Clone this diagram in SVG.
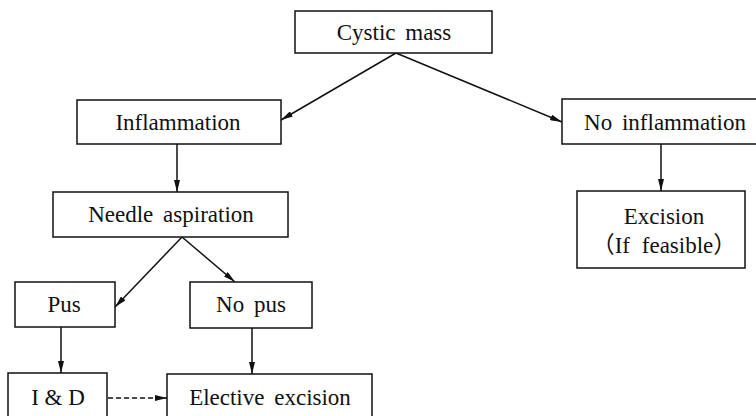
<svg xmlns="http://www.w3.org/2000/svg" width="756" height="416" viewBox="0 0 756 416">
<defs>
<style>
.box{fill:#fff;stroke:#111;stroke-width:1.5}
.t{font-family:"Liberation Serif","Times New Roman","Noto Sans CJK SC",serif;font-size:23px;fill:#111;text-anchor:middle;word-spacing:4px}
.c{stroke:#111;stroke-width:1.5;fill:none}
.d{stroke:#111;stroke-width:1.4;fill:none;stroke-dasharray:5 3}
</style>
<marker id="ah" viewBox="0 0 12 6" refX="12" refY="3" markerWidth="12" markerHeight="6" markerUnits="userSpaceOnUse" orient="auto">
<path d="M0,0 L12,3 L0,6 Z" fill="#111"/>
</marker>
</defs>
<rect width="756" height="416" fill="#fff"/>
<g id="connectors">
<line class="c" x1="396" y1="53" x2="281" y2="120" marker-end="url(#ah)"/>
<line class="c" x1="396" y1="53" x2="562" y2="122" marker-end="url(#ah)"/>
<line class="c" x1="177" y1="144" x2="177" y2="192" marker-end="url(#ah)"/>
<line class="c" x1="661" y1="144" x2="661" y2="191" marker-end="url(#ah)"/>
<line class="c" x1="182" y1="237" x2="115" y2="307" marker-end="url(#ah)"/>
<line class="c" x1="182" y1="237" x2="235" y2="282" marker-end="url(#ah)"/>
<line class="c" x1="61" y1="327" x2="61" y2="373" marker-end="url(#ah)"/>
<line class="c" x1="252" y1="328" x2="252" y2="374" marker-end="url(#ah)"/>
<line class="d" x1="108" y1="398" x2="167" y2="398" marker-end="url(#ah)"/>
</g>
<g id="cystic-mass">
<rect class="box" x="295" y="11" width="197" height="42"/>
<text class="t" x="394" y="40">Cystic mass</text>
</g>
<g id="inflammation">
<rect class="box" x="77" y="100" width="204" height="44"/>
<text class="t" x="178" y="130">Inflammation</text>
</g>
<g id="no-inflammation">
<rect class="box" x="562" y="99" width="200" height="45"/>
<text class="t" x="665" y="130">No inflammation</text>
</g>
<g id="needle-aspiration">
<rect class="box" x="53" y="192" width="235" height="45"/>
<text class="t" x="171" y="222">Needle aspiration</text>
</g>
<g id="excision">
<rect class="box" x="577" y="191" width="168" height="77"/>
<text class="t" x="664" y="224">Excision</text>
<text class="t" x="664" y="253" style="word-spacing:6px">（If feasible）</text>
</g>
<g id="pus">
<rect class="box" x="15" y="282" width="100" height="45"/>
<text class="t" x="64" y="312">Pus</text>
</g>
<g id="no-pus">
<rect class="box" x="190" y="282" width="122" height="46"/>
<text class="t" x="251" y="312">No pus</text>
</g>
<g id="i-and-d">
<rect class="box" x="8" y="373" width="99" height="50"/>
<text class="t" x="58" y="405" style="word-spacing:0">I &amp; D</text>
</g>
<g id="elective-excision">
<rect class="box" x="167" y="374" width="205" height="50"/>
<text class="t" x="270" y="405">Elective excision</text>
</g>
</svg>
